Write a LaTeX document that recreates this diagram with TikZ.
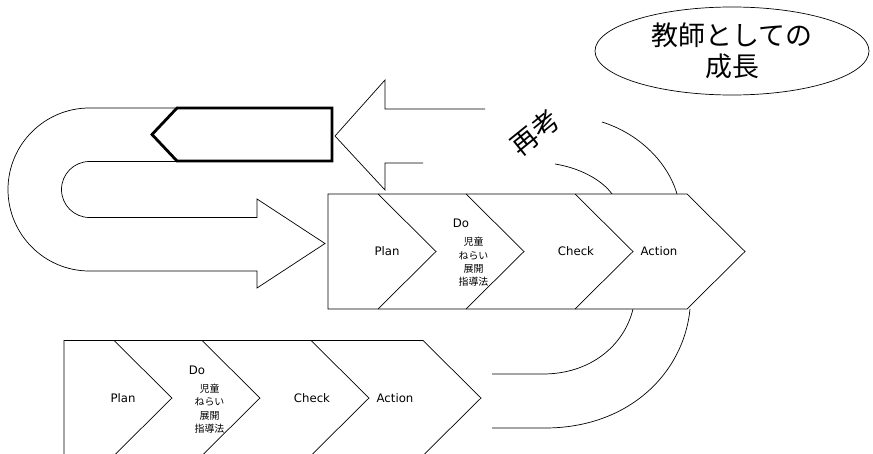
\documentclass[tikz,border=0pt]{standalone}
\usepackage{fontspec}
\setmainfont{DejaVu Sans}
\newfontfamily\jpfont{Noto Sans CJK JP}
\usepackage{tikz}
\usetikzlibrary{shapes.geometric}

% one Plan-Do-Check-Action row, #1 = left middle point, #2 = name prefix
\newcommand{\pdcarow}[2]{%
\begin{scope}[shift={#1}]
\draw[line,fill=white] (0,-57.5) -- (359,-57.5) -- (417,0) -- (359,57.5) -- (0,57.5) -- cycle;
\draw[line] (50,-57.5) -- (108,0) -- (50,57.5);
\draw[line] (138,-57.5) -- (196,0) -- (138,57.5);
\draw[line] (247,-57.5) -- (305,0) -- (247,57.5);
\node[lbl] (#2plan) at (59,0) {Plan};
\node[lbl] (#2do) at (133,-28) {Do};
\node[jp] (#2items) at (145.5,10.5) {児童\\ねらい\\展開\\指導法};
\node[lbl] (#2check) at (248,0) {Check};
\node[lbl] (#2action) at (331,0) {Action};
\end{scope}}

\begin{document}
\begin{tikzpicture}[x=0.03cm,y=-0.03cm]
\useasboundingbox (0,0) rectangle (873,454);
\clip (0,0) rectangle (873,454);

\tikzstyle{line}=[line width=0.6pt,line join=miter]
\tikzstyle{lbl}=[font=\fontsize{10}{12}\selectfont,inner sep=1pt]
\tikzstyle{jp}=[font=\jpfont\fontsize{8.5}{11.5}\selectfont,align=center,inner sep=1pt]
\tikzstyle{big}=[font=\jpfont\fontsize{23}{27}\selectfont,align=center,inner sep=0pt]

% growth bubble
\node[line,draw,ellipse,big,minimum width=8.22cm,minimum height=2.64cm] (growth) at (732,51) {教師としての\\成長};

% curved band behind the upper row
\draw[line] (602,122) .. controls (640,134) and (668,163) .. (677,194);
\draw[line] (555,164) .. controls (580,168) and (602,180) .. (612,194);
\draw[line] (492,374) -- (543,374) .. controls (590,374) and (624,346) .. (633,309);
\draw[line] (492,428) -- (545,428) .. controls (630,428) and (684,372) .. (690,309);

\node[big,rotate=39] (rethink) at (535,133) {再考};

% arrow back to the left
\draw[line] (485,109) -- (385,109) -- (385,80) -- (335,136) -- (385,190) -- (385,163) -- (423,163);

% U-turn arrow
\draw[line] (177,108) -- (89.5,108) .. controls (44.5,108) and (8,144.5) .. (8,189.5)
  .. controls (8,234.5) and (44.5,271) .. (89.5,271) -- (257,271) -- (257,288) -- (325,243.5)
  -- (257,199) -- (257,217.5) -- (89.5,217.5) .. controls (74,217.5) and (61.5,205) .. (61.5,189.5)
  .. controls (61.5,174) and (74,161.5) .. (89.5,161.5) -- (177,161.5);
\draw[line width=2.4pt,fill=white] (332,108) -- (177,108) -- (152,134.5) -- (177,161) -- (332,161) -- cycle;

% the two cycles
\pdcarow{(328,251.5)}{up}
\pdcarow{(64,398)}{low}
\end{tikzpicture}
\end{document}
